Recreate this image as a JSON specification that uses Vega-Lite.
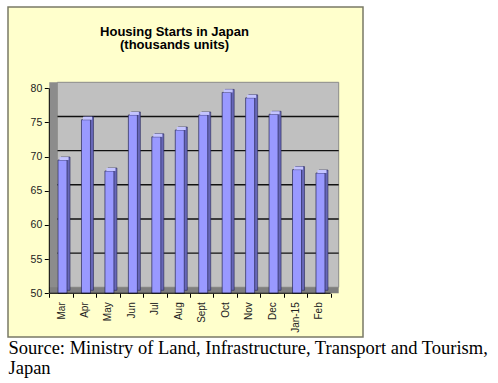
{
  "$schema": "https://vega.github.io/schema/vega-lite/v6.json",
  "width": 355,
  "height": 330,
  "autosize": {"type": "none"},
  "padding": {"left": 8, "top": 7, "right": 135, "bottom": 46},
  "background": "white",
  "config": {
    "view": {"fill": "#FFFFCC", "stroke": "#7A7A66", "strokeWidth": 1.5},
    "font": "Liberation Sans"
  },
  "title": {
    "text": ["Housing Starts in Japan", "(thousands units)"],
    "font": "Liberation Sans",
    "fontSize": 13,
    "fontWeight": "bold",
    "color": "#000000",
    "anchor": "middle",
    "frame": "group",
    "offset": -45,
    "dx": -11,
    "lineHeight": 13.5
  },
  "datasets": {
    "starts": [
      {"month": "Mar", "value": 69.5},
      {"month": "Apr", "value": 75.4},
      {"month": "May", "value": 67.9},
      {"month": "Jun", "value": 76.1},
      {"month": "Jul", "value": 72.9},
      {"month": "Aug", "value": 73.9},
      {"month": "Sept", "value": 76.1},
      {"month": "Oct", "value": 79.4},
      {"month": "Nov", "value": 78.6},
      {"month": "Dec", "value": 76.2},
      {"month": "Jan-15", "value": 68.1},
      {"month": "Feb", "value": 67.6}
    ],
    "grid": [{"v": 55}, {"v": 60}, {"v": 65}, {"v": 70}, {"v": 75}],
    "one": [{"k": 1}]
  },
  "data": {"name": "starts"},
  "layer": [
    {
      "data": {"name": "one"},
      "mark": {"type": "rect", "fill": "#C0C0C0", "stroke": "#8A8A8A", "strokeWidth": 1, "xOffset": 8, "x2Offset": 8, "yOffset": -6, "y2Offset": -6},
      "encoding": {
        "x": {
          "datum": "Mar", "bandPosition": 0, "type": "nominal",
          "scale": {"domain": ["Mar","Apr","May","Jun","Jul","Aug","Sept","Oct","Nov","Dec","Jan-15","Feb"], "range": [41.3, 322.7], "paddingInner": 0, "paddingOuter": 0},
          "axis": {
            "orient": "bottom", "offset": -43.72, "tickBand": "extent", "domain": false, "grid": false,
            "tickSize": 4, "tickColor": "#000000", "labelAngle": -90, "labelAlign": "right", "labelBaseline": "middle",
            "labelPadding": 4.5, "labelFont": "Liberation Sans", "labelFontSize": 10, "labelColor": "#222222",
            "title": ["Source: Ministry of Land, Infrastructure, Transport and Tourism,", "Japan"],
            "titleX": 0, "titleY": 60.7, "titleAlign": "left", "titleAnchor": "start", "titleBaseline": "alphabetic",
            "titleFont": "Liberation Serif", "titleFontSize": 18.5, "titleFontWeight": "normal", "titleColor": "#000000",
            "titleLineHeight": 19.5, "titleAngle": 0
          }
        },
        "x2": {"datum": "Feb", "bandPosition": 1},
        "y": {
          "datum": 50, "type": "quantitative",
          "scale": {"domain": [43.6, 91.9], "nice": false, "zero": false},
          "axis": {
            "values": [50, 55, 60, 65, 70, 75, 80], "offset": -40.3, "domain": false, "grid": false,
            "tickSize": 4, "tickColor": "#000000", "labelFont": "Liberation Sans", "labelFontSize": 10.5,
            "labelColor": "#222222", "labelPadding": 2.5, "title": null
          }
        },
        "y2": {"datum": 80}
      }
    },
    {
      "data": {"name": "grid"},
      "mark": {"type": "rule", "color": "#111111", "strokeWidth": 1.4, "xOffset": 8, "x2Offset": 8, "yOffset": -6},
      "encoding": {
        "x": {"datum": "Mar", "bandPosition": 0, "type": "nominal"},
        "x2": {"datum": "Feb", "bandPosition": 1},
        "y": {"field": "v", "type": "quantitative"}
      }
    },
    {
      "data": {"name": "one"},
      "mark": {"type": "rect", "fill": "#8C8C8C", "x2Offset": 8, "y2Offset": -6},
      "encoding": {
        "x": {"datum": "Mar", "bandPosition": 0, "type": "nominal"},
        "x2": {"datum": "Mar", "bandPosition": 0},
        "y": {"datum": 50, "type": "quantitative"},
        "y2": {"datum": 80}
      }
    },
    {
      "data": {"name": "one"},
      "mark": {"type": "rect", "fill": "#7E7E7E", "x2Offset": 8, "y2Offset": -6},
      "encoding": {
        "x": {"datum": "Mar", "bandPosition": 0, "type": "nominal"},
        "x2": {"datum": "Feb", "bandPosition": 1},
        "y": {"datum": 50, "type": "quantitative"},
        "y2": {"datum": 50}
      }
    },
    {
      "mark": {"type": "bar", "width": 9, "xOffset": 4.5, "yOffset": -3, "y2Offset": -3, "fill": "#6767B8", "stroke": "#262655", "strokeWidth": 0.6},
      "encoding": {
        "x": {"field": "month", "type": "nominal", "sort": null},
        "y": {"field": "value", "type": "quantitative"},
        "y2": {"datum": 50}
      }
    },
    {
      "mark": {"type": "bar", "width": 9, "xOffset": 1.5, "fill": "#9999FF", "stroke": "#262655", "strokeWidth": 0.7},
      "encoding": {
        "x": {"field": "month", "type": "nominal", "sort": null},
        "y": {"field": "value", "type": "quantitative"},
        "y2": {"datum": 50}
      }
    },
    {
      "mark": {"type": "tick", "orient": "horizontal", "size": 9, "thickness": 3, "xOffset": 3, "yOffset": -1.5, "color": "#C4C4FF", "opacity": 1},
      "encoding": {
        "x": {"field": "month", "type": "nominal", "sort": null},
        "y": {"field": "value", "type": "quantitative"}
      }
    },
    {
      "data": {"name": "one"},
      "mark": {"type": "rule", "color": "#000000", "strokeWidth": 1},
      "encoding": {
        "x": {"datum": "Mar", "bandPosition": 0, "type": "nominal"},
        "y": {"datum": 50, "type": "quantitative"},
        "y2": {"datum": 80}
      }
    },
    {
      "data": {"name": "one"},
      "mark": {"type": "rule", "color": "#000000", "strokeWidth": 1},
      "encoding": {
        "x": {"datum": "Mar", "bandPosition": 0, "type": "nominal"},
        "x2": {"datum": "Feb", "bandPosition": 1},
        "y": {"datum": 50, "type": "quantitative"}
      }
    }
  ]
}
